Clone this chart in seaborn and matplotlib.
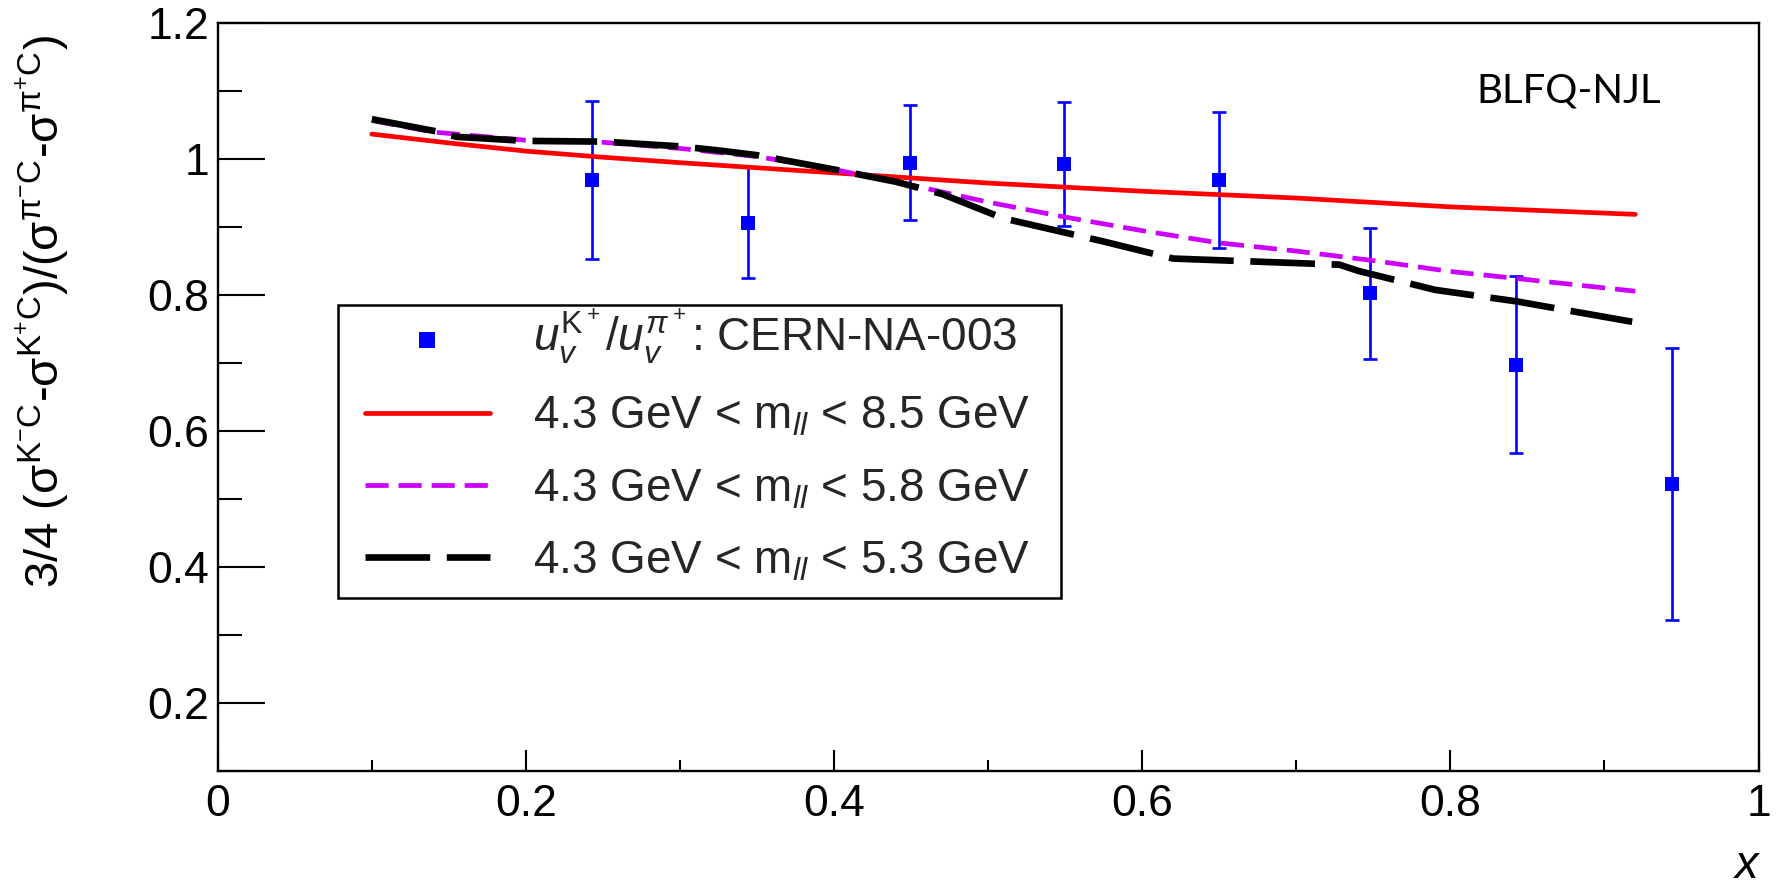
import numpy as np
import pandas as pd
import matplotlib
matplotlib.use("Agg")
import matplotlib.pyplot as plt
from matplotlib.patches import Rectangle
import seaborn as sns
from matplotlib.ticker import MultipleLocator, FuncFormatter

# CERN-NA-003 ratio data
data_x = [0.243, 0.344, 0.449, 0.549, 0.650, 0.748, 0.8425, 0.944]
data_y = [0.970, 0.907, 0.995, 0.993, 0.970, 0.803, 0.698, 0.523]
data_err = [0.116, 0.081, 0.085, 0.091, 0.100, 0.096, 0.130, 0.200]

# BLFQ-NJL predictions for three dilepton mass windows
x_85 = [0.10, 0.15, 0.20, 0.25, 0.30, 0.40, 0.50, 0.60, 0.70, 0.80, 0.92]
y_85 = [1.037, 1.024, 1.012, 1.003, 0.995, 0.980, 0.965, 0.953, 0.943,
        0.930, 0.919]

x_58 = [0.10, 0.14, 0.20, 0.25, 0.30, 0.35, 0.40, 0.45, 0.50, 0.55, 0.60,
        0.65, 0.70, 0.75, 0.80, 0.85, 0.92]
y_58 = [1.057, 1.040, 1.028, 1.025, 1.016, 1.004, 0.985, 0.962, 0.937,
        0.915, 0.895, 0.877, 0.865, 0.851, 0.835, 0.823, 0.806]

x_53 = [0.10, 0.142, 0.155, 0.20, 0.25, 0.30, 0.325, 0.35, 0.40, 0.44,
        0.47, 0.51, 0.535, 0.575, 0.62, 0.68, 0.728, 0.74, 0.79, 0.843, 0.918]
y_53 = [1.059, 1.041, 1.033, 1.027, 1.026, 1.019, 1.013, 1.006, 0.985,
        0.967, 0.949, 0.913, 0.900, 0.879, 0.854, 0.849, 0.845, 0.836,
        0.808, 0.791, 0.761]

labels = [r"$u_v^{\mathrm{K}^+}/u_v^{\pi^+}$: CERN-NA-003",
          r"4.3 GeV < m$_{ll}$ < 8.5 GeV",
          r"4.3 GeV < m$_{ll}$ < 5.8 GeV",
          r"4.3 GeV < m$_{ll}$ < 5.3 GeV"]

sns.set_theme(style="white")
plt.rcParams["font.family"] = ["Liberation Sans", "DejaVu Sans"]
plt.rcParams["mathtext.fontset"] = "custom"
plt.rcParams["mathtext.rm"] = "Liberation Sans"
plt.rcParams["mathtext.it"] = "Liberation Sans:italic"
plt.rcParams["mathtext.bf"] = "Liberation Sans:bold"

fig = plt.figure(figsize=(17.79, 8.85), dpi=100)
ax = fig.add_axes([0.1224, 0.1285, 0.8661, 0.8452])

blue = "#0000ff"
ax.errorbar(data_x, data_y, yerr=data_err, fmt="none", ecolor=blue,
            elinewidth=1.9, capsize=5, capthick=1.9, zorder=2)
pts = pd.DataFrame({"x": data_x, "y": data_y})
sns.scatterplot(data=pts, x="x", y="y", marker="s", s=105, color=blue,
                edgecolor=blue, linewidth=0, ax=ax, zorder=3, label=labels[0])

curves = [
    (x_85, y_85, "#ff0000", 3.4, "-", labels[1]),
    (x_58, y_58, "#cc00ff", 3.4, (0, (4.9, 2.1)), labels[2]),
    (x_53, y_53, "#000000", 4.8, (0, (9.7, 2.5)), labels[3]),
]
for cx, cy, col, lw, ls, lab in curves:
    sns.lineplot(x=cx, y=cy, color=col, linewidth=lw, linestyle=ls,
                 ax=ax, label=lab, zorder=4, sort=False)

ax.set_xlim(0, 1)
ax.set_ylim(0.1, 1.2)
ax.set_xlabel("")
ax.set_ylabel("")

ax.xaxis.set_major_locator(MultipleLocator(0.2))
ax.xaxis.set_minor_locator(MultipleLocator(0.1))
ax.yaxis.set_minor_locator(MultipleLocator(0.1))
fmt = FuncFormatter(lambda v, p: ("%g" % round(v, 3)))
ax.xaxis.set_major_formatter(fmt)
ax.yaxis.set_major_formatter(fmt)
ax.set_yticks([0.2, 0.4, 0.6, 0.8, 1.0, 1.2])

ax.tick_params(which="both", direction="in", bottom=True, left=True,
               top=False, right=False, width=1.5, color="black",
               labelsize=32, labelcolor="black")
ax.tick_params(axis="x", which="major", length=15, pad=9)
ax.tick_params(axis="x", which="minor", length=8)
ax.tick_params(axis="y", which="major", length=34, pad=6)
ax.tick_params(axis="y", which="minor", length=17)
for sp in ax.spines.values():
    sp.set_visible(True)
    sp.set_color("black")
    sp.set_linewidth(1.7)

# legend box drawn as its own frame so the entries can sit freely inside
box = Rectangle((0.078, 0.232), 0.469, 0.392, transform=ax.transAxes,
                facecolor="white", edgecolor="black", linewidth=1.8,
                zorder=5)
ax.add_patch(box)
handles, labs = ax.get_legend_handles_labels()
leg = ax.legend(handles, labs, loc="upper left",
                bbox_to_anchor=(0.0955, 0.621), frameon=False,
                fontsize=33, handlelength=2.72, handletextpad=0.94,
                borderpad=0, labelspacing=0.62, borderaxespad=0,
                markerscale=1.15)
leg.set_zorder(6)

ax.text(0.877, 0.9095, "BLFQ-NJL", transform=ax.transAxes, ha="center",
        va="center", fontsize=29, family=["Lato", "DejaVu Sans"], color="black")

fig.text(43 / 1779, 1 - 312 / 885,
         r"3/4 ($\mathregular{\sigma^{K^{-}C}}$-$\mathregular{\sigma^{K^{+}C}}$)/"
         r"($\mathregular{\sigma^{\pi^{-}C}}$-$\mathregular{\sigma^{\pi^{+}C}}$)",
         rotation=90, ha="center", va="center", fontsize=34, color="black")
fig.text(1747 / 1779, 1 - 866 / 885, "x", style="italic", ha="center",
         va="center", fontsize=34, color="black")

fig.savefig("out.png", dpi=100, facecolor="white")
